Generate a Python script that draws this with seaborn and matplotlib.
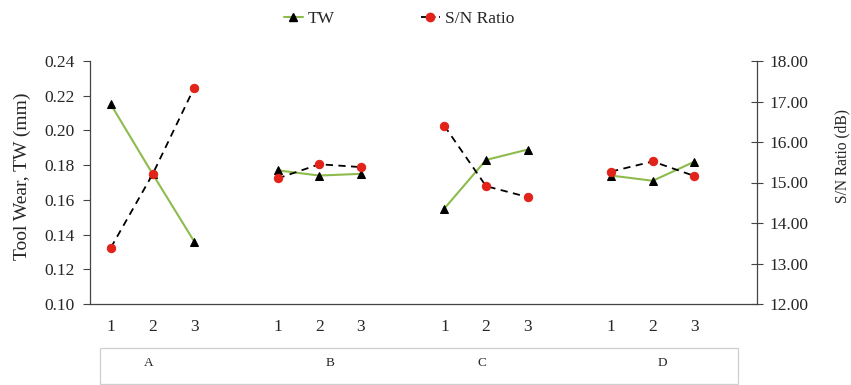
import matplotlib
matplotlib.use("Agg")
import matplotlib.pyplot as plt
import matplotlib.patches as mpatches
from matplotlib.lines import Line2D
import numpy as np
import pandas as pd
import seaborn as sns

# ---- data ----
factors = ["A", "B", "C", "D"]
levels = ["1", "2", "3"]
tw_A = [0.215, 0.175, 0.136]
tw_B = [0.177, 0.174, 0.175]
tw_C = [0.155, 0.183, 0.189]
tw_D = [0.174, 0.171, 0.182]
sn_A = [13.39, 15.20, 17.34]
sn_B = [15.10, 15.45, 15.38]
sn_C = [16.40, 14.91, 14.64]
sn_D = [15.27, 15.52, 15.16]
left_ticks = [0.10, 0.12, 0.14, 0.16, 0.18, 0.20, 0.22, 0.24]
right_ticks = [12, 13, 14, 15, 16, 17, 18]

sns.set_style("white")
plt.rcParams["font.family"] = ["Liberation Serif", "DejaVu Serif"]

tw_all = [tw_A, tw_B, tw_C, tw_D]
sn_all = [sn_A, sn_B, sn_C, sn_D]
rows = []
for gi, f in enumerate(factors):
    for li, lv in enumerate(levels):
        rows.append({"factor": f, "level": lv, "x": gi * 4 + li,
                     "TW": tw_all[gi][li], "SN": sn_all[gi][li]})
df = pd.DataFrame(rows)

fig = plt.figure(figsize=(8.51, 3.85), dpi=100)
ax = fig.add_axes([90 / 851, 1 - 304 / 385, 667 / 851, 243 / 385])
ax2 = ax.twinx()

green = "#8DBB4C"
red = "#E2231A"
axc = "#444444"

sns.lineplot(data=df, x="x", y="TW", units="factor", estimator=None, ax=ax,
             color=green, linewidth=1.5, marker="^", markersize=5.5,
             markerfacecolor="black", markeredgecolor="black", legend=False)
sns.lineplot(data=df, x="x", y="SN", units="factor", estimator=None, ax=ax2,
             color="black", linestyle=(0, (4, 3)), linewidth=1.3,
             marker="o", markersize=6, markerfacecolor=red,
             markeredgecolor=red, legend=False)

ax.set_xlim(-0.5, 15.5)
ax.set_ylim(0.10, 0.24)
ax2.set_ylim(12, 18)
ax.set_yticks(left_ticks)
ax.set_yticklabels([f"{v:.2f}" for v in left_ticks])
ax2.set_yticks(right_ticks)
ax2.set_yticklabels([f"{v:.2f}" for v in right_ticks])

ax.set_xticks(np.arange(-0.5, 16, 1))
ax.set_xticklabels([])
ax.set_xticks(df["x"].values, minor=True)
ax.set_xticklabels(df["level"].tolist(), minor=True)
ax.tick_params(axis="x", which="major", direction="out", length=4,
               width=0.8, color=axc)
ax.tick_params(axis="x", which="minor", length=0, pad=11, labelsize=12.5)
ax.tick_params(axis="y", direction="out", length=5, width=0.8,
               color=axc, labelsize=12.5, left=True, pad=6)
ax2.tick_params(axis="y", direction="inout", length=8, width=0.8,
                color=axc, labelsize=12.5, right=True, pad=5)

for a in (ax, ax2):
    a.set_xlabel("")
    a.spines["top"].set_visible(False)
    for s in ("left", "right", "bottom"):
        a.spines[s].set_color(axc)
        a.spines[s].set_linewidth(0.9)
ax.spines["right"].set_visible(False)
ax2.spines["left"].set_visible(False)
ax2.spines["bottom"].set_visible(False)

ax.set_ylabel("Tool Wear, TW (mm)", fontsize=14)
ax2.set_ylabel("S/N Ratio (dB)", fontsize=11.2)
ax.yaxis.set_label_coords(22 / 851, (385 - 176) / 385, transform=fig.transFigure)
ax2.yaxis.set_label_coords(842 / 851, (385 - 156) / 385, transform=fig.transFigure)
for lab in (ax.yaxis.label, ax2.yaxis.label):
    lab.set_va("center")
    lab.set_ha("center")

# bottom factor box
box = mpatches.Rectangle((100 / 851, 1 / 385), 638 / 851, 36 / 385,
                         transform=fig.transFigure, fill=False,
                         edgecolor="#CFCFCF", linewidth=0.9)
fig.patches.append(box)
for f, px in zip(factors, [149, 330, 482, 662]):
    fig.text(px / 851, 1 - 363 / 385, f, ha="center", va="center", fontsize=9.5)

handles = [
    Line2D([], [], color=green, linewidth=1.5, marker="^", markersize=5.5,
           markerfacecolor="black", markeredgecolor="black"),
    Line2D([], [], color="black", linestyle=(0, (3, 2)), linewidth=1.3,
           marker="o", markersize=6, markerfacecolor=red, markeredgecolor=red),
]
fig.legend(handles, ["TW", "S/N Ratio"], loc="center", ncol=2,
           bbox_to_anchor=(0.469, 1 - 19 / 385), frameon=False,
           handlelength=1.1, columnspacing=4.95, fontsize=12.5,
           handletextpad=0.3)

fig.savefig("out.png", dpi=100)
